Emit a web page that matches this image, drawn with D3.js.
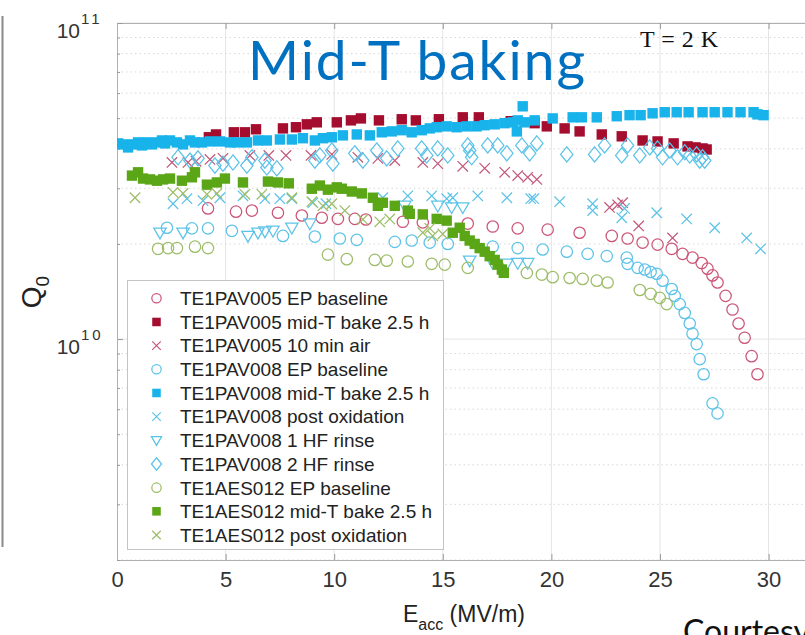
<!DOCTYPE html>
<html>
<head>
<meta charset="utf-8">
<script src="https://cdn.jsdelivr.net/npm/d3@7"></script>
<style>
  body { margin: 0; background: #fff; }
  svg { display: block; }
</style>
</head>
<body>
<svg id="chart" width="805" height="635"></svg>
<script>
// Q0 versus accelerating gradient at 2 K.
// Each point is [E_acc in MV/m, Q0 in units of 1e10].
const Q_UNIT = 1e10;

const pav005Ep = [[4.19,2.59],[5.48,2.53],[6.21,2.55],[7.41,2.51],[8.51,2.46],[9.43,2.42],[10.17,2.40],[10.95,2.40],[11.46,2.39],[13.16,2.35],[14.08,2.34],[16.15,2.32],[17.30,2.27],[18.45,2.24],[19.83,2.22],[21.30,2.17],[22.78,2.12],[23.51,2.08],[24.20,2.02],[24.89,1.99],[25.54,1.93],[26.04,1.86],[26.50,1.81],[26.92,1.74],[27.19,1.67],[27.42,1.59],[27.65,1.51],[28.02,1.37],[28.34,1.24],[28.62,1.12],[28.90,1.01],[29.22,0.883],[29.49,0.774]];

const pav005Bake = [[4.23,4.35],[4.56,4.44],[5.38,4.51],[5.89,4.51],[6.40,4.61],[7.64,4.64],[8.24,4.68],[8.74,4.78],[9.20,4.85],[10.12,4.85],[10.77,4.92],[11.23,4.99],[12.06,4.92],[13.11,4.96],[13.76,4.92],[14.82,4.96],[15.92,5.03],[16.66,5.03],[18.13,4.89],[19.23,4.82],[19.79,4.71],[20.61,4.64],[21.30,4.54],[22.32,4.44],[23.24,4.38],[24.20,4.25],[24.89,4.22],[25.63,4.16],[26.27,4.07],[26.64,4.04],[26.96,4.01],[27.15,3.98]];

const pav005Air = [[2.53,3.62],[3.27,3.62],[3.64,3.65],[4.28,3.70],[4.88,3.73],[6.12,3.81],[6.99,3.81],[7.78,3.81],[8.93,3.81],[9.89,3.84],[11.09,3.76],[12.01,3.73],[12.79,3.67],[14.08,3.62],[14.77,3.59],[15.92,3.52],[16.93,3.47],[17.85,3.37],[18.45,3.29],[18.91,3.25],[19.33,3.20],[22.68,2.61],[23.05,2.66],[23.28,2.70],[24.02,2.28],[25.58,2.09]];

const pav008Ep = [[2.30,2.25],[3.45,2.24],[4.19,2.24],[5.29,2.20],[7.64,2.12],[9.11,2.11],[10.26,2.08],[11.04,2.06],[12.79,2.03],[13.57,2.05],[14.40,2.02],[15.23,2.00],[17.30,1.96],[18.45,1.94],[19.60,1.92],[20.71,1.89],[21.67,1.86],[22.55,1.83],[23.47,1.81],[23.51,1.73],[23.97,1.68],[24.30,1.66],[24.57,1.63],[24.85,1.61],[25.12,1.53],[25.54,1.44],[25.68,1.37],[25.91,1.29],[26.14,1.21],[26.37,1.12],[26.50,1.04],[26.69,0.964],[26.83,0.864],[27.01,0.774],[27.42,0.626],[27.65,0.582]];

const pav008Bake = [[0.05,4.16],[0.28,4.13],[0.51,4.04],[0.74,4.13],[0.97,4.19],[1.15,4.10],[1.38,4.19],[1.61,4.13],[1.84,4.19],[2.07,4.25],[2.21,4.16],[2.44,4.25],[2.76,4.19],[3.04,4.13],[3.36,4.25],[3.59,4.19],[3.91,4.19],[4.28,4.22],[4.74,4.22],[5.20,4.19],[5.52,4.19],[5.98,4.19],[6.49,4.25],[6.90,4.25],[7.50,4.28],[8.05,4.28],[8.56,4.32],[9.11,4.25],[9.48,4.32],[9.89,4.35],[10.40,4.41],[11.04,4.44],[11.64,4.41],[12.19,4.51],[12.65,4.54],[13.11,4.58],[13.57,4.51],[14.03,4.58],[14.40,4.64],[14.72,4.68],[15.18,4.71],[15.64,4.68],[16.10,4.71],[16.56,4.71],[16.93,4.75],[17.39,4.78],[17.85,4.82],[18.22,4.85],[18.41,4.54],[18.45,4.92],[18.68,5.45],[18.77,4.85],[19.23,4.92],[20.06,4.99],[20.98,5.03],[21.40,5.03],[22.09,5.03],[23.01,5.07],[23.60,5.11],[24.11,5.11],[24.66,5.18],[25.22,5.22],[25.77,5.22],[26.32,5.22],[26.96,5.22],[27.52,5.22],[28.11,5.22],[28.71,5.22],[29.31,5.22],[29.49,5.14],[29.77,5.11]];

const pav008Ox = [[2.58,2.68],[3.22,2.78],[3.96,2.74],[4.74,2.80],[5.80,2.84],[6.81,2.78],[7.50,2.78],[8.05,2.78],[9.02,2.70],[9.62,2.68],[12.24,2.80],[13.39,2.84],[14.49,2.84],[15.18,2.78],[15.46,2.80],[16.61,2.84],[17.95,2.80],[19.05,2.78],[19.19,2.78],[20.38,2.72],[21.90,2.68],[21.90,2.55],[23.24,2.42],[23.37,2.59],[24.85,2.51],[26.23,2.40],[27.52,2.25],[28.99,2.09],[29.63,1.93]];

const pav008Hf1 = [[1.98,2.17],[3.04,2.17],[6.03,2.12],[6.49,2.17],[6.81,2.19],[7.18,2.20],[8.05,2.25],[8.88,2.32],[13.25,2.64],[14.77,2.64],[15.41,2.61],[15.92,2.61],[16.24,1.77],[17.30,1.74],[17.95,1.73],[18.45,1.74],[18.91,1.74]];

const pav008Hf2 = [[2.81,3.76],[3.36,3.67],[3.73,3.73],[4.51,3.54],[4.88,3.59],[5.34,3.62],[5.98,3.54],[6.21,3.76],[6.81,3.67],[6.90,3.49],[7.36,3.47],[9.11,3.67],[9.34,3.81],[9.89,3.95],[9.94,3.59],[10.95,3.87],[11.32,3.67],[11.96,3.95],[12.42,3.73],[12.93,4.01],[14.03,4.01],[14.26,3.81],[14.77,4.01],[15.23,3.81],[16.15,4.10],[16.24,3.95],[16.33,3.76],[17.07,4.10],[17.53,4.10],[17.95,3.87],[18.64,4.10],[19.00,3.87],[19.33,4.16],[20.71,3.84],[21.99,3.84],[22.45,4.10],[23.24,3.81],[23.51,4.10],[24.07,3.81],[24.53,4.04],[24.89,4.01],[25.12,3.76],[25.45,3.95],[25.81,3.76],[26.14,3.90],[26.37,3.81],[26.69,3.84],[26.83,3.67],[26.96,3.76],[27.06,3.67]];

const aes012Ep = [[1.89,1.93],[2.35,1.94],[2.76,1.94],[3.59,1.96],[4.19,1.94],[9.71,1.85],[10.58,1.79],[11.87,1.78],[12.42,1.77],[13.39,1.76],[14.49,1.73],[15.09,1.72],[16.15,1.68],[18.87,1.62],[19.56,1.60],[20.06,1.57],[20.84,1.56],[21.44,1.55],[22.09,1.53],[22.59,1.51],[24.07,1.43],[24.57,1.39],[24.99,1.35],[25.31,1.29]];

const aes012Bake = [[0.69,3.29],[0.97,3.37],[1.20,3.22],[1.52,3.20],[1.84,3.17],[2.12,3.20],[2.44,3.22],[2.99,3.17],[3.45,3.25],[3.59,3.37],[4.14,3.08],[4.60,3.13],[4.97,3.22],[5.80,3.13],[6.95,3.15],[7.41,3.13],[7.91,3.11],[8.97,2.99],[9.34,3.06],[9.71,2.97],[10.12,3.02],[10.35,2.99],[10.81,2.93],[11.27,2.89],[11.78,2.80],[12.24,2.70],[12.01,2.64],[12.79,2.64],[13.39,2.55],[13.48,2.49],[14.08,2.48],[14.72,2.40],[15.18,2.37],[15.46,2.17],[15.78,2.25],[16.01,2.12],[16.24,2.05],[16.47,2.00],[16.70,1.94],[16.93,1.89],[17.16,1.83],[17.39,1.78],[17.53,1.72],[17.72,1.66],[17.81,1.62]];

const aes012Ox = [[0.83,2.80],[2.58,2.91],[3.04,2.89],[4.14,2.87],[4.60,2.89],[5.89,2.87],[6.67,2.87],[8.05,2.80],[8.97,2.72],[9.48,2.64],[9.89,2.68],[10.49,2.55],[11.32,2.39],[12.10,2.35],[12.56,2.40],[14.08,2.17],[14.40,2.24],[14.54,2.12],[15.00,2.15]];

const xTicks = [0, 5, 10, 15, 20, 25, 30];
const yDecades = [1e10, 1e11];
const yDecadeLabels = ["10", "11"];
const yMinor = [2e9,3e9,4e9,5e9,6e9,7e9,8e9,9e9,2e10,3e10,4e10,5e10,6e10,7e10,8e10,9e10];

const seriesNames = [
  "TE1PAV005 EP baseline", "TE1PAV005 mid-T bake 2.5 h", "TE1PAV005 10 min air",
  "TE1PAV008 EP baseline", "TE1PAV008 mid-T bake 2.5 h", "TE1PAV008 post oxidation",
  "TE1PAV008 1 HF rinse", "TE1PAV008 2 HF rinse",
  "TE1AES012 EP baseline", "TE1AES012 mid-T bake 2.5 h", "TE1AES012 post oxidation"
];

const RED_OPEN = "#cc5577", RED_FILL = "#a50d2e";
const BLUE_OPEN = "#5cc3e8", BLUE_FILL = "#17b3ea";
const GREEN_OPEN = "#9dbd68", GREEN_FILL = "#5aa616";

const series = [
  { data: pav005Ep,   shape: "circle",  color: RED_OPEN },
  { data: pav005Bake, shape: "square",  color: RED_FILL },
  { data: pav005Air,  shape: "x",       color: "#c4587a" },
  { data: pav008Ep,   shape: "circle",  color: BLUE_OPEN },
  { data: pav008Bake, shape: "square",  color: BLUE_FILL },
  { data: pav008Ox,   shape: "x",       color: BLUE_OPEN },
  { data: pav008Hf1,  shape: "tri",     color: BLUE_OPEN },
  { data: pav008Hf2,  shape: "diamond", color: BLUE_OPEN },
  { data: aes012Ep,   shape: "circle",  color: GREEN_OPEN },
  { data: aes012Bake, shape: "square",  color: GREEN_FILL },
  { data: aes012Ox,   shape: "x",       color: GREEN_OPEN }
].map((s, i) => ({ ...s, name: seriesNames[i] }));

// ---- layout ----
const svg = d3.select("#chart");
const plot = { left: 117, right: 812, top: 23, bottom: 560 };
const x = d3.scaleLinear().domain([0, 32]).range([plot.left, plot.right]);
const y = d3.scaleLog().domain([2e9, 1e11]).range([plot.bottom, plot.top]);
const SANS = "'Liberation Sans', Arial, Helvetica, sans-serif";

svg.append("rect").attr("width", 805).attr("height", 635).attr("fill", "#fff");

// slide frame edge on the far left
svg.append("line").attr("x1", 2.5).attr("x2", 2.5).attr("y1", 16).attr("y2", 547)
  .attr("stroke", "#8a8a8a").attr("stroke-width", 2);

svg.append("defs").append("clipPath").attr("id", "plotClip")
  .append("rect").attr("x", plot.left).attr("y", plot.top)
  .attr("width", plot.right - plot.left).attr("height", plot.bottom - plot.top);

// ---- grid ----
const grid = svg.append("g");
grid.selectAll("line.vg").data(xTicks.filter(d => d > 0)).join("line")
  .attr("x1", d => x(d)).attr("x2", d => x(d))
  .attr("y1", plot.top).attr("y2", plot.bottom)
  .attr("stroke", "#e4e4e4").attr("stroke-width", 1);
grid.selectAll("line.hm").data(yMinor).join("line")
  .attr("x1", plot.left).attr("x2", plot.right)
  .attr("y1", d => y(d)).attr("y2", d => y(d))
  .attr("stroke", "#d8d8d8").attr("stroke-width", 1).attr("stroke-dasharray", "1.5,3");
grid.selectAll("line.hM").data(yDecades).join("line")
  .attr("x1", plot.left).attr("x2", plot.right)
  .attr("y1", d => y(d)).attr("y2", d => y(d))
  .attr("stroke", "#e4e4e4").attr("stroke-width", 1);

// ---- axes (ticks point inward) ----
const axisColor = "#b0b0b0";
const xAxis = svg.append("g").attr("transform", `translate(0,${plot.bottom})`)
  .call(d3.axisBottom(x).tickValues(xTicks).tickSize(-6).tickPadding(11).tickSizeOuter(0));
xAxis.selectAll("text").attr("font-family", SANS).attr("font-size", 22).attr("fill", "#333");

const xTop = svg.append("g").attr("transform", `translate(0,${plot.top})`)
  .call(d3.axisTop(x).tickValues(xTicks).tickSize(-6).tickFormat("").tickSizeOuter(0));

const yMajor = svg.append("g").attr("transform", `translate(${plot.left},0)`)
  .call(d3.axisLeft(y).tickValues(yDecades).tickSize(-6).tickFormat("").tickSizeOuter(0));
const yMin = svg.append("g").attr("transform", `translate(${plot.left},0)`)
  .call(d3.axisLeft(y).tickValues(yMinor).tickSize(-3).tickFormat("").tickSizeOuter(0));

[xAxis, xTop, yMajor, yMin].forEach(a => {
  a.select(".domain").attr("stroke", axisColor);
  a.selectAll(".tick line").attr("stroke", "#9a9a9a");
});

// decade labels 10^n
const yl = svg.append("g").attr("font-family", SANS).attr("fill", "#333");
yDecades.forEach((v, i) => {
  yl.append("text").attr("x", 80).attr("y", y(v) + 15)
    .attr("text-anchor", "end").attr("font-size", 21).text("10");
  yl.append("text").attr("x", 81).attr("y", y(v) + 1)
    .attr("font-size", 15).attr("letter-spacing", 3).text(yDecadeLabels[i]);
});

// ---- markers ----
function addShape(sel, shape, color, k) {
  const sw = 1.25;
  if (shape === "circle") {
    sel.append("circle").attr("r", 5.7 * k).attr("fill", "none")
      .attr("stroke", color).attr("stroke-width", sw);
  } else if (shape === "square") {
    const h = 5.2 * k;
    sel.append("rect").attr("x", -h).attr("y", -h).attr("width", 2 * h).attr("height", 2 * h)
      .attr("fill", color);
  } else if (shape === "x") {
    const a = 5.2 * k;
    sel.append("path").attr("d", `M${-a},${-a}L${a},${a}M${-a},${a}L${a},${-a}`)
      .attr("fill", "none").attr("stroke", color).attr("stroke-width", sw);
  } else if (shape === "tri") {
    const w = 6.2 * k, t = 4.6 * k, b = 6.2 * k;
    sel.append("path").attr("d", `M${-w},${-t}L${w},${-t}L0,${b}Z`)
      .attr("fill", "none").attr("stroke", color).attr("stroke-width", sw);
  } else if (shape === "diamond") {
    const w = 6.2 * k, h = 7.6 * k;
    sel.append("path").attr("d", `M0,${-h}L${w},0L0,${h}L${-w},0Z`)
      .attr("fill", "none").attr("stroke", color).attr("stroke-width", sw);
  }
}

const marks = svg.append("g").attr("clip-path", "url(#plotClip)");
series.forEach(s => {
  const pts = marks.append("g").selectAll("g").data(s.data).join("g")
    .attr("transform", d => `translate(${x(d[0])},${y(d[1] * Q_UNIT)})`);
  addShape(pts, s.shape, s.color, 1);
});

// ---- legend ----
const legend = svg.append("g");
legend.append("rect").attr("x", 127.5).attr("y", 280.5).attr("width", 316).attr("height", 269)
  .attr("fill", "#fff").attr("stroke", "#c4c4c4").attr("stroke-width", 1);
const rows = legend.selectAll("g.row").data(series).join("g")
  .attr("transform", (d, i) => `translate(156.5,${298.3 + i * 23.67})`);
rows.each(function (d) { addShape(d3.select(this), d.shape, d.color, 0.82); });
rows.append("text").attr("x", 23.5).attr("dy", "0.36em")
  .attr("font-family", SANS).attr("font-size", 19).attr("fill", "#222")
  .text(d => d.name);

// ---- titles and labels ----
svg.append("text").attr("x", 248).attr("y", 80)
  .attr("font-family", "Lato, 'Open Sans', sans-serif").attr("font-size", 55)
  .attr("fill", "#0070C0").attr("textLength", 337).attr("lengthAdjust", "spacing")
  .text("Mid-T baking");

svg.append("text").attr("x", 640).attr("y", 47)
  .attr("font-family", "'Liberation Serif', 'Times New Roman', serif").attr("font-size", 24)
  .attr("fill", "#111").attr("textLength", 78).text("T = 2 K");

const yLab = svg.append("text").attr("transform", "translate(41,292) rotate(-90)")
  .attr("text-anchor", "middle").attr("font-family", SANS).attr("font-size", 28).attr("fill", "#222");
yLab.append("tspan").text("Q");
yLab.append("tspan").attr("font-size", 19).attr("dy", 8).text("0");

const xLab = svg.append("text").attr("x", 464).attr("y", 622)
  .attr("text-anchor", "middle").attr("font-family", SANS).attr("font-size", 23).attr("fill", "#222");
xLab.append("tspan").text("E");
xLab.append("tspan").attr("font-size", 16).attr("dy", 8).text("acc");
xLab.append("tspan").attr("dy", -8).text(" (MV/m)");

// credit line, running off the lower right corner of the slide
svg.append("text").attr("x", 683).attr("y", 643)
  .attr("font-family", "Lato, 'Open Sans', sans-serif").attr("font-size", 32).attr("fill", "#111")
  .text("Courtesy");
</script>
</body>
</html>
